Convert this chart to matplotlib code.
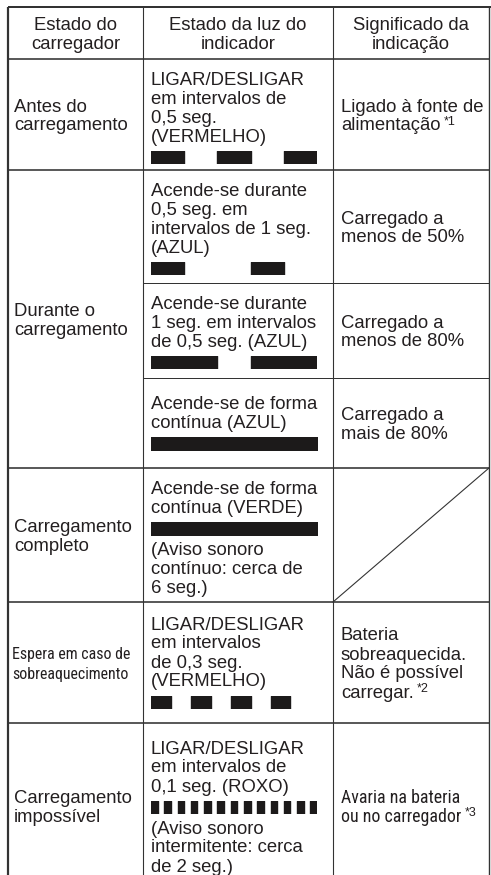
import matplotlib
matplotlib.use('Agg')
import matplotlib.pyplot as plt
from matplotlib import font_manager

# dados da tabela
cabecalho = ["Estado do\ncarregador", "Estado da luz do\nindicador", "Significado da\nindicação"]
estado_carregador = [["Antes do", "carregamento"],
                     ["Durante o", "carregamento"],
                     ["Carregamento", "completo"],
                     ["Espera em caso de", "sobreaquecimento"],
                     ["Carregamento", "impossível"]]
sub_linhas = [1, 3, 1, 1, 1]   # linhas do indicador por estado

luz_antes = [["LIGAR/DESLIGAR", "em intervalos de", "0,5 seg.", "(VERMELHO)"],
             ["Acende-se durante", "0,5 seg. em", "intervalos de 1 seg.", "(AZUL)"],
             ["Acende-se durante", "1 seg. em intervalos", "de 0,5 seg. (AZUL)"],
             ["Acende-se de forma", "contínua (AZUL)"],
             ["Acende-se de forma", "contínua (VERDE)"],
             ["LIGAR/DESLIGAR", "em intervalos", "de 0,3 seg.", "(VERMELHO)"],
             ["LIGAR/DESLIGAR", "em intervalos de", "0,1 seg. (ROXO)"]]
luz_on = [0.5, 0.5, 1.0, 2.5, 2.5, 0.3, 0.1]    # seg. aceso
luz_off = [0.5, 1.0, 0.5, 0.0, 0.0, 0.3, 0.1]   # seg. apagado
luz_depois = [[], [], [], [],
              ["(Aviso sonoro", "contínuo: cerca de", "6 seg.)"],
              [],
              ["(Aviso sonoro", "intermitente: cerca", "de 2 seg.)"]]
significado = [["Ligado à fonte de", "alimentação"],
               ["Carregado a", "menos de 50%"],
               ["Carregado a", "menos de 80%"],
               ["Carregado a", "mais de 80%"],
               None,
               ["Bateria", "sobreaquecida.", "Não é possível", "carregar."],
               ["Avaria na bateria", "ou no carregador"]]
notas = ["*1", "", "", "", "", "*2", "*3"]
janela = 2.5  # segundos mostrados em cada barra

# layout (pixels)
W, H = 491, 875
FS = 18.5
LS = 19
CAP = 13
col_x = [8, 143, 333, 489]
topo = 7
y_ind = [59, 170, 283, 378, 468, 602, 723, 889]
TXT = '#231f20'
LIN = '#333333'


def pt(v):
    return v * 72 / 100


def tem_fonte(nome):
    try:
        font_manager.findfont(font_manager.FontProperties(family=nome), fallback_to_default=False)
        return True
    except ValueError:
        return False


FONTE = 'Liberation Sans'
ESTREITA = FONTE
for nome in ['Liberation Sans Narrow', 'Roboto Condensed', 'Open Sans Condensed', 'Roboto']:
    if tem_fonte(nome):
        ESTREITA = nome
        break

fig = plt.figure(figsize=(W / 100, H / 100), dpi=100)
ax = fig.add_axes([0, 0, 1, 1])
ax.set_xlim(0, W)
ax.set_ylim(H, 0)
ax.axis('off')
rend = fig.canvas.get_renderer()


def largura(s, size, family):
    t = ax.text(0, 0, s, fontsize=pt(size), family=family)
    w = t.get_window_extent(rend).width
    t.remove()
    return w


# tamanho da letra estreita ajustado à largura do original
fs_espera = min(FS, FS * 119 / largura("Espera em caso de", FS, ESTREITA))
fs_avaria = min(FS, FS * 120 / largura("Avaria na bateria", FS, ESTREITA))


def escreve(x, y, s, size=FS, family=FONTE, ha='left'):
    return ax.text(x, y, s, fontsize=pt(size), family=family, color=TXT, ha=ha, va='baseline')


def bloco(x, top, bottom, linhas, size=FS, family=FONTE, ha='left'):
    h = CAP + LS * (len(linhas) - 1)
    y0 = top + (bottom - top - h) / 2 + CAP
    return [escreve(x, y0 + i * LS, s, size, family, ha) for i, s in enumerate(linhas)]


# cabeçalho
for i, s in enumerate(cabecalho):
    xc = (col_x[i] + col_x[i + 1]) / 2
    bloco(xc, topo, y_ind[0], s.split('\n'), ha='center')

# coluna 1
lim = [0]
for n in sub_linhas:
    lim.append(lim[-1] + n)
y_est = [y_ind[k] for k in lim]
for i, linhas in enumerate(estado_carregador):
    if i == 3:
        bloco(12, y_est[i], y_est[i + 1], linhas, size=fs_espera, family=ESTREITA)
    else:
        bloco(14, y_est[i], y_est[i + 1], linhas)

# coluna 2 (texto + barras do indicador)
bx0, bx1, BH = 151, 317, 13
for i in range(len(luz_antes)):
    top, bot = y_ind[i], y_ind[i + 1]
    na, nd = len(luz_antes[i]), len(luz_depois[i])
    h = CAP + LS * (na - 1) + 9 + BH + (20 + LS * (nd - 1) if nd else 0)
    y = top + max(13, (bot - top - h) / 2) + CAP
    for s in luz_antes[i]:
        escreve(151, y, s)
        y += LS
    y_barra = y - LS + 9
    bax = fig.add_axes([bx0 / W, 1 - (y_barra + BH) / H, (bx1 - bx0) / W, BH / H])
    bax.set_xlim(0, janela)
    bax.set_ylim(0, 1)
    bax.axis('off')
    per = luz_on[i] + luz_off[i]
    t, seg = 0.0, []
    while t + luz_on[i] <= janela + 1e-6:
        seg.append((t, luz_on[i]))
        t += per
    bax.broken_barh(seg, (0, 1), color='#1c1a1a')
    y = y_barra + BH + 20
    for s in luz_depois[i]:
        escreve(151, y, s)
        y += LS

# coluna 3
for i, linhas in enumerate(significado):
    if linhas is None:
        ax.plot([col_x[2], col_x[3]], [y_ind[i + 1], y_ind[i]], color=LIN, lw=pt(1.1))
        continue
    if i == 6:
        arts = bloco(341, y_ind[i], y_ind[i + 1], linhas, size=fs_avaria, family=ESTREITA)
    else:
        arts = bloco(341, y_ind[i], y_ind[i + 1], linhas)
    if notas[i]:
        ax.annotate(notas[i], xy=(1, 1), xycoords=arts[-1], xytext=(2.5, 1),
                    textcoords='offset points', fontsize=pt(12.5), family=FONTE,
                    color=TXT, ha='left', va='top')

# linhas da tabela
ax.hlines(topo, col_x[0], W, color=LIN, lw=pt(2))
ax.hlines(y_est[:-1], col_x[0], col_x[3], color=LIN, lw=pt(1.6))
ax.hlines([y_ind[k] for k in (2, 3)], col_x[1], col_x[3], color=LIN, lw=pt(1.0))
ax.vlines(col_x[0], topo, H, color=LIN, lw=pt(2.2))
ax.vlines(col_x[1:3], topo, H, color=LIN, lw=pt(1.1))
ax.vlines(col_x[3], topo, H, color=LIN, lw=pt(1.4))

fig.savefig('out.png', dpi=100)
